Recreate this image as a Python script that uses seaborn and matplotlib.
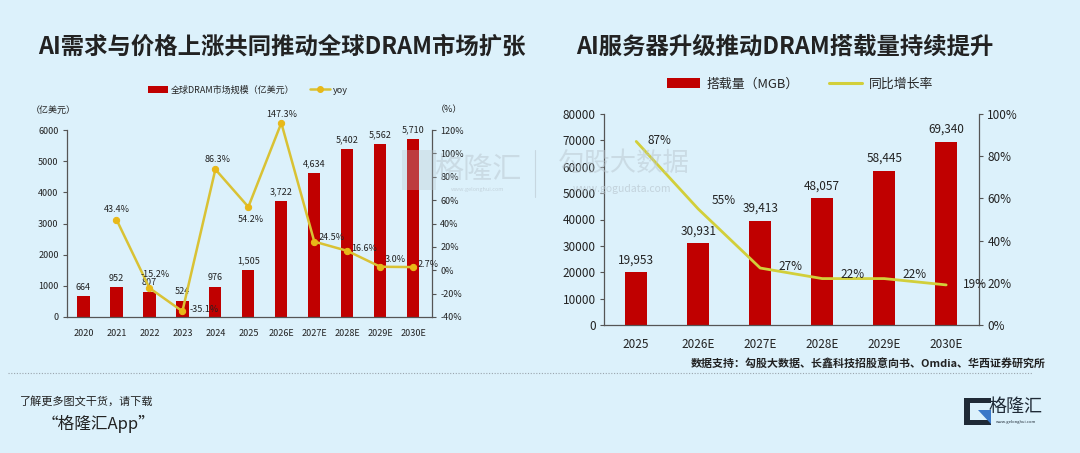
import numpy as np
import pandas as pd
import matplotlib
matplotlib.use("Agg")
import matplotlib.pyplot as plt
from matplotlib.patches import Patch, Rectangle, Polygon
from matplotlib.lines import Line2D
import seaborn as sns

# ---------------- data ----------------
left_years = ["2020", "2021", "2022", "2023", "2024", "2025", "2026E", "2027E", "2028E", "2029E", "2030E"]
dram_market = [664, 952, 807, 524, 976, 1505, 3722, 4634, 5402, 5562, 5710]
dram_yoy = [np.nan, 43.4, -15.2, -35.1, 86.3, 54.2, 147.3, 24.5, 16.6, 3.0, 2.7]

right_years = ["2025", "2026E", "2027E", "2028E", "2029E", "2030E"]
mgb_load = [19953, 30931, 39413, 48057, 58445, 69340]
mgb_yoy = [87, 55, 27, 22, 22, 19]

left_yticks = [0, 1000, 2000, 3000, 4000, 5000, 6000]
left_pct_ticks = [-40, -20, 0, 20, 40, 60, 80, 100, 120]
right_yticks = [0, 10000, 20000, 30000, 40000, 50000, 60000, 70000, 80000]
right_pct_ticks = [0, 20, 40, 60, 80, 100]

# ---------------- style ----------------
BG = "#dcf1fb"
RED = "#c00000"
YEL = "#d9c234"
YEL_R = "#d2cf3a"
MK = "#e8b818"
TXT = "#222222"
AX = "#555555"

sns.set_theme(style="white")
plt.rcParams["font.family"] = ["Noto Sans CJK SC", "DejaVu Sans"]
plt.rcParams["axes.unicode_minus"] = False

W, H = 1080, 453
fig = plt.figure(figsize=(W / 100, H / 100), dpi=100, facecolor=BG)


def fx(px):
    return px / W


def fy(py):
    return 1 - py / H


def style_axes(ax, ax2, fs):
    for a in (ax, ax2):
        a.set_facecolor("none")
        a.spines["top"].set_visible(False)
        for s in ("left", "right", "bottom"):
            a.spines[s].set_color(AX)
            a.spines[s].set_linewidth(0.9)
    ax.spines["right"].set_visible(False)
    ax2.spines["left"].set_visible(False)
    ax2.spines["bottom"].set_visible(False)
    ax.tick_params(axis="y", which="both", left=True, length=3, width=0.8, color=AX,
                   labelsize=fs, labelcolor=TXT, pad=3)
    ax.tick_params(axis="x", bottom=False, labelsize=fs, labelcolor=TXT, pad=3)
    ax2.tick_params(axis="y", right=True, length=3, width=0.8, color=AX,
                    labelsize=fs, labelcolor=TXT, pad=3)
    ax.set_xlabel("")
    ax.set_ylabel("")
    ax2.set_xlabel("")
    ax2.set_ylabel("")
    ax.grid(False)
    ax2.grid(False)


# ---------------- watermarks (drawn first, behind everything) ----------------
wm = "#b9c6cf"
fig.text(fx(478), fy(170), "格隆汇", fontsize=21, color=wm, alpha=0.5, ha="center",
         va="center", zorder=0)
fig.patches.append(Rectangle((fx(402), fy(190)), fx(34), 40 / H, transform=fig.transFigure,
                             facecolor=wm, alpha=0.3, edgecolor="none", zorder=0))
fig.text(fx(478), fy(190), "www.gelonghui.com", fontsize=4, color=wm, alpha=0.7,
         ha="center", va="center", zorder=0)
fig.add_artist(Line2D([fx(535), fx(535)], [fy(150), fy(197)], color=wm, lw=0.8, alpha=0.6,
                      zorder=0))
fig.text(fx(624), fy(163), "勾股大数据", fontsize=19, color=wm, alpha=0.5, ha="center",
         va="center", zorder=0)
fig.text(fx(622), fy(189), "www.gogudata.com", fontsize=7.5, color=wm, alpha=0.7,
         ha="center", va="center", zorder=0)

# ---------------- left chart ----------------
axL = fig.add_axes([fx(67), fy(317), fx(432 - 67), (317 - 130) / H])
dfL = pd.DataFrame({"year": left_years, "value": dram_market, "yoy": dram_yoy})
sns.barplot(data=dfL, x="year", y="value", color=RED, width=0.37, ax=axL,
            saturation=1, edgecolor="none")
axL.set_ylim(0, 6000)
axL.set_yticks(left_yticks)
axL.set_xlim(-0.5, 10.57)
for i, v in enumerate(dram_market):
    axL.text(i, v + 140, f"{v:,}", ha="center", va="bottom", fontsize=6.5, color=TXT)

axL2 = axL.twinx()
xs = np.arange(len(left_years))
# the original chart pins its out-of-range 2026E point just above the 120% gridline
yoy_shown = np.minimum(np.array(dram_yoy, dtype=float), 126)
sns.lineplot(x=xs, y=yoy_shown, ax=axL2, color=YEL, linewidth=1.8, marker="o",
             markersize=4.5, markerfacecolor=MK, markeredgecolor=MK, clip_on=False)
axL2.set_ylim(-40, 120)
axL2.set_yticks(left_pct_ticks)
axL2.set_yticklabels([f"{t}%" for t in left_pct_ticks])
axL2.set_xlim(-0.5, 10.57)
style_axes(axL, axL2, 6.5)

# yoy labels (offsets in points)
lbl_off = {1: (0, 7, "center"), 2: (4, 10, "center"), 3: (5, 1, "left"), 4: (-8, 7, "left"),
           5: (2, -9, "center"), 6: (0, 6, "center"), 7: (3, 3, "left"),
           8: (3, 2, "left"), 9: (3, 5, "left"), 10: (3, 2, "left")}
for i, (v, s) in enumerate(zip(yoy_shown, dram_yoy)):
    if np.isnan(v):
        continue
    dx, dy, ha = lbl_off[i]
    axL2.annotate(f"{s:.1f}%", (i, v), xytext=(dx, dy), textcoords="offset points",
                  ha=ha, va="center", fontsize=6.5, color=TXT, annotation_clip=False)

fig.text(fx(53), fy(110), "（亿美元）", fontsize=6.5, color=TXT, ha="center", va="center")
fig.text(fx(449), fy(110), "（%）", fontsize=6.5, color=TXT, ha="center", va="center")

hL = [Patch(facecolor=RED, edgecolor="none"),
      Line2D([0], [0], color=YEL, lw=1.8, marker="o", markersize=4, markerfacecolor=MK,
             markeredgecolor=MK)]
fig.legend(hL, ["全球DRAM市场规模（亿美元）", "yoy"], loc="center",
           bbox_to_anchor=(fx(248), fy(90)), ncol=2, frameon=False, fontsize=6.5,
           handlelength=2.2, handleheight=0.7, columnspacing=1.7, handletextpad=0.3)

# ---------------- right chart ----------------
axR = fig.add_axes([fx(604), fy(325), fx(979 - 604), (325 - 114) / H])
dfR = pd.DataFrame({"year": right_years, "value": mgb_load, "yoy": mgb_yoy})
sns.barplot(data=dfR, x="year", y="value", color=RED, width=0.36, ax=axR,
            saturation=1, edgecolor="none")
axR.set_ylim(0, 80000)
axR.set_yticks(right_yticks)
axR.set_xlim(-0.52, 5.53)
for i, v in enumerate(mgb_load):
    axR.text(i, v + 2300, f"{v:,}", ha="center", va="bottom", fontsize=8.5, color=TXT)

axR2 = axR.twinx()
xr = np.arange(len(right_years))
sns.lineplot(x=xr, y=mgb_yoy, ax=axR2, color=YEL_R, linewidth=2.0)
axR2.set_ylim(0, 100)
axR2.set_yticks(right_pct_ticks)
axR2.set_yticklabels([f"{t}%" for t in right_pct_ticks])
axR2.set_xlim(-0.52, 5.53)
style_axes(axR, axR2, 8.5)

r_off = {0: (8, 1), 1: (10, 6), 2: (13, 1), 3: (13, 3), 4: (13, 3), 5: (12, 0)}
for i, v in enumerate(mgb_yoy):
    dx, dy = r_off[i]
    axR2.annotate(f"{v}%", (i, v), xytext=(dx, dy), textcoords="offset points",
                  ha="left", va="center", fontsize=8.5, color=TXT, annotation_clip=False)

hR = [Patch(facecolor=RED, edgecolor="none"), Line2D([0], [0], color=YEL_R, lw=2.2)]
fig.legend(hR, ["搭载量（MGB）", "同比增长率"], loc="center",
           bbox_to_anchor=(fx(800), fy(84)), ncol=2, frameon=False, fontsize=9.3,
           handlelength=2.6, handleheight=0.7, columnspacing=2.3, handletextpad=0.5)

fig.text(fx(1046), fy(363), "数据支持：勾股大数据、长鑫科技招股意向书、Omdia、华西证券研究所",
         fontsize=7.9, color=TXT, ha="right", va="center", fontweight="bold")

# ---------------- titles ----------------
fig.text(fx(38), fy(47), "AI需求与价格上涨共同推动全球DRAM市场扩张", fontsize=16.8,
         fontweight="bold", color=TXT, ha="left", va="center")
fig.text(fx(576), fy(47), "AI服务器升级推动DRAM搭载量持续提升", fontsize=16.8,
         fontweight="bold", color=TXT, ha="left", va="center")

# ---------------- footer ----------------
fig.add_artist(Line2D([fx(8), fx(1032)], [fy(373), fy(373)], color="#9aa5ad", lw=0.8,
                      linestyle=(0, (1, 1.5))))
fig.text(fx(20), fy(401), "了解更多图文干货，请下载", fontsize=8, color=TXT, ha="left",
         va="center", style="italic")
fig.text(fx(98), fy(424), "“格隆汇App”", fontsize=12, color=TXT, ha="center",
         va="center", style="italic")
# logo icon
fig.patches.append(Rectangle((fx(964), fy(425)), fx(27), 27 / H, transform=fig.transFigure,
                             facecolor="#1f2a36", edgecolor="none"))
fig.patches.append(Rectangle((fx(970), fy(420)), fx(21), 17 / H, transform=fig.transFigure,
                             facecolor=BG, edgecolor="none"))
fig.patches.append(Polygon([(fx(978), fy(410)), (fx(991), fy(410)), (fx(991), fy(424))],
                           closed=True, transform=fig.transFigure, facecolor="#3a78c8",
                           edgecolor="none"))
fig.text(fx(1016), fy(407), "格隆汇", fontsize=13, color="#1f2a36", ha="center", va="center")
fig.text(fx(1016), fy(422), "www.gelonghui.com", fontsize=3, color="#1f2a36", ha="center",
         va="center")

fig.savefig("out.png", dpi=100, facecolor=BG)
